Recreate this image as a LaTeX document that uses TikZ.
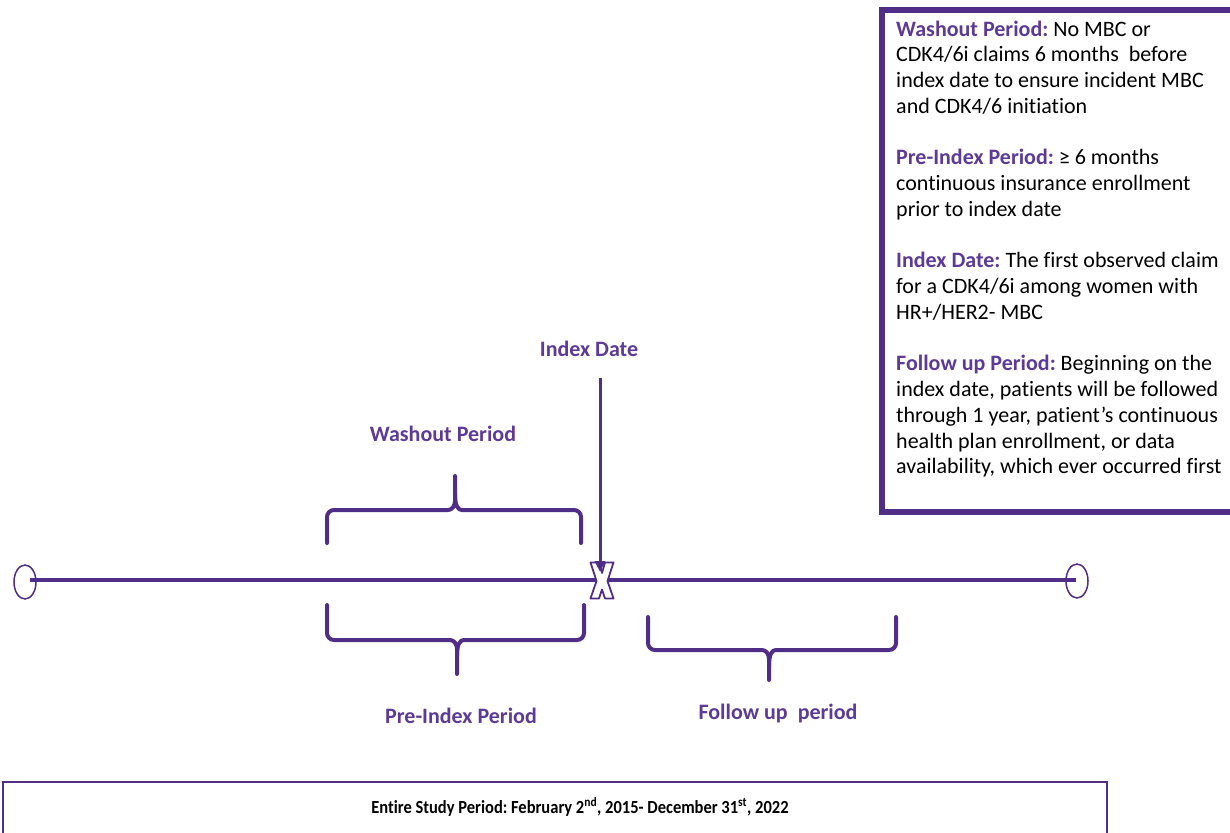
\documentclass[tikz,border=0pt]{standalone}
\usepackage{fontspec}
\setmainfont{Carlito}[Ligatures=NoCommon]
\usetikzlibrary{arrows.meta,shapes.geometric}
\definecolor{pline}{RGB}{80,45,135}
\definecolor{ptext}{RGB}{92,58,150}
\tikzset{
  brace/.style={draw=pline, line width=4pt, rounded corners=7pt, line cap=round},
  lbl/.style={text=ptext, font=\fontsize{22}{24}\selectfont\bfseries, inner sep=0pt},
  endcap/.style={draw=pline, line width=1.5pt, fill=white, ellipse, minimum width=22pt, minimum height=34pt, inner sep=0pt},
  xmark/.style={draw=pline, line width=1.8pt, fill=white, line join=round},
}
\begin{document}
\frenchspacing
\begin{tikzpicture}[x=1pt,y=-1pt]
\useasboundingbox (0,0) rectangle (1230,832);
\clip (0,0) rectangle (1230,832);
% timeline
\node[endcap] (le) at (25,582) {};
\node[endcap] (re) at (1077,581) {};
\coordinate (lstart) at (30,580);
\coordinate (lend) at (1076,580);
\draw[pline, line width=4.5pt] (lstart) -- (lend);
% X marker
\coordinate (xc) at (602,580);
\draw[xmark] (590.5,562.5) -- (599,562.5) -- (602,573) -- (605,562.5) -- (613.5,562.5) -- (607.5,581) -- (613.5,598.5) -- (605,598.5) -- (602,589.5) -- (599,598.5) -- (590.5,598.5) -- (596.5,581) -- cycle;
% arrow
\node[lbl] (idx) at (589,349) {Index Date};
\coordinate (atop) at (600,378);
\coordinate (abot) at (600,572);
\draw[pline, line width=3pt, -{Triangle[length=11pt,width=10pt]}] (atop) -- (abot);
% washout brace (top)
\draw[brace] (327,543) -- (327,510) -- (441,510) .. controls (452,510) and (455,506) .. (455,494) -- (455,476);
\draw[brace] (581,543) -- (581,510) -- (469,510) .. controls (458,510) and (455,506) .. (455,494);
\node[lbl] (wl) at (443,434) {Washout Period};
% pre-index brace
\draw[brace] (327,605) -- (327,640) -- (443,640) .. controls (454,640) and (457,644) .. (457,656) -- (457,674);
\draw[brace] (584,605) -- (584,640) -- (471,640) .. controls (460,640) and (457,644) .. (457,656);
\node[lbl] (pl) at (461,716) {Pre-Index Period};
% follow brace
\draw[brace] (648,617) -- (648,650) -- (755,650) .. controls (766,650) and (769,654) .. (769,666) -- (769,680);
\draw[brace] (896,617) -- (896,650) -- (783,650) .. controls (772,650) and (769,654) .. (769,666);
\node[lbl] (fl) at (778,714) {Follow up\ \ period};
% right info box
\draw[pline, line width=6pt] (882,10) rectangle (1240,512);
\node[anchor=north west, inner sep=0pt, align=left, font=\fontsize{22}{25.75}\selectfont] (info) at (896,20.5) {%
{\color{ptext}\bfseries Washout Period:} No MBC or\\
CDK4/6i claims 6 months\ \ before\\
index date to ensure incident MBC\\
and CDK4/6 initiation\\[25.75pt]
{\color{ptext}\bfseries Pre-Index Period:} ≥ 6 months\\
continuous insurance enrollment\\
prior to index date\\[25.75pt]
{\color{ptext}\bfseries Index Date:} The first observed claim\\
for a CDK4/6i among women with\\
HR+/HER2- MBC\\[25.75pt]
{\color{ptext}\bfseries Follow up Period:} Beginning on the\\
index date, patients will be followed\\
through 1 year, patient’s continuous\\
health plan enrollment, or data\\
availability, which ever occurred first};
% bottom box
\draw[pline, line width=1.5pt] (3,782) rectangle (1107,845);
\node[font=\fontsize{16.5}{18}\selectfont\bfseries, inner sep=0pt, yscale=1.12] (study) at (580,807) {Entire Study Period: February 2\textsuperscript{nd}, 2015- December 31\textsuperscript{st}, 2022};
\end{tikzpicture}
\end{document}
